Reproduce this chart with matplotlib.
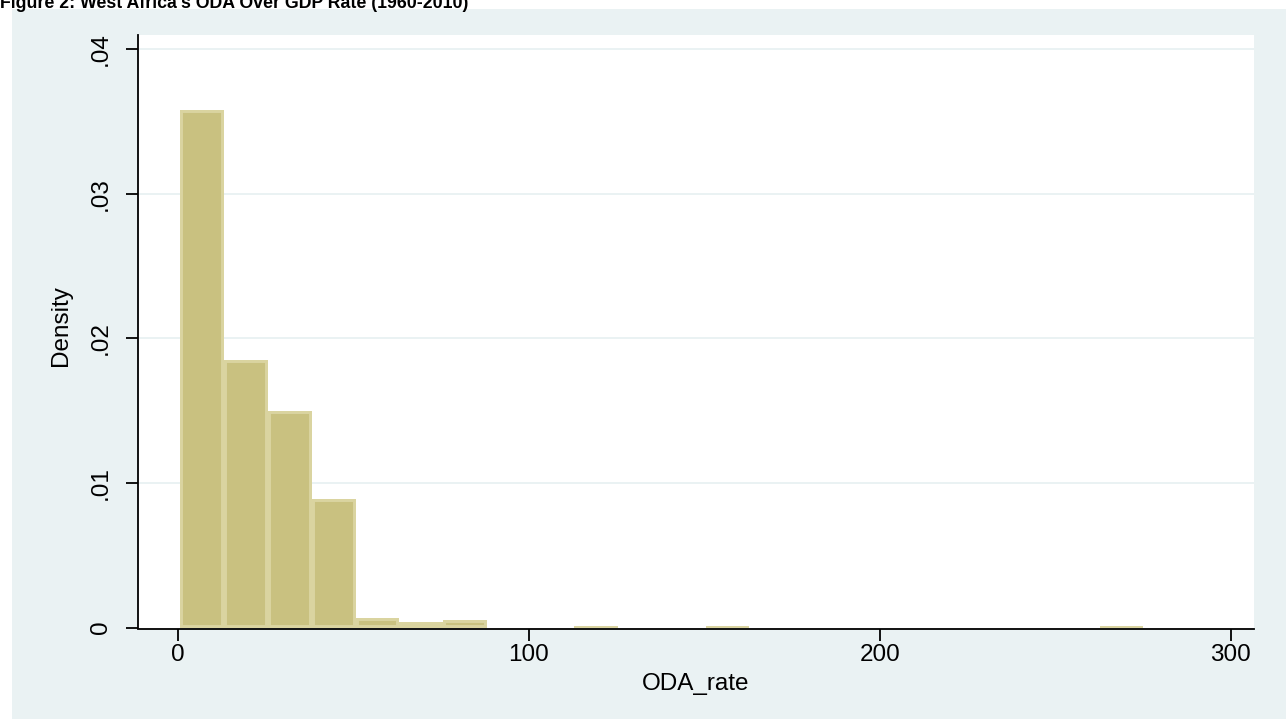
import matplotlib
matplotlib.use('Agg')
import matplotlib.pyplot as plt
from matplotlib.patches import Rectangle

plt.rcParams['font.family'] = ['Liberation Sans', 'DejaVu Sans']

# ── histogram of ODA_rate (density scale, equal-width bins) ──
BIN_START = 0.77
BIN_WIDTH = 12.47
DENSITY = [0.0358, 0.0185, 0.0150, 0.0089, 0.00066, 0.00038, 0.00052,
           0.0, 0.0, 0.00013, 0.0, 0.0, 0.00013, 0.0, 0.0, 0.0,
           0.0, 0.0, 0.0, 0.0, 0.0, 0.00013]

X_TICKS = [0, 100, 200, 300]
Y_TICKS = [0, 0.01, 0.02, 0.03, 0.04]
Y_TICK_LABELS = ['0', '.01', '.02', '.03', '.04']

TITLE = "Figure 2: West Africa's ODA Over GDP Rate (1960-2010)"

BG      = '#EAF2F3'
FILL    = '#C9C180'
OUTLINE = '#DAD4A0'

W, H = 1286, 719
fig = plt.figure(figsize=(W / 100, H / 100), dpi=100, facecolor='white')

# graph region background (behind the plot region)
fig.patches.append(Rectangle((12 / W, 0), 1 - 12 / W, 1 - 9 / H,
                             transform=fig.transFigure, facecolor=BG,
                             edgecolor='none', zorder=-5))

ax = fig.add_axes([137.7 / W, (H - 627.5) / H,
                   (1254 - 137.7) / W, (627.5 - 35) / H])
ax.set_zorder(1)
ax.set_facecolor('white')

lefts = [BIN_START + i * BIN_WIDTH for i in range(len(DENSITY))]
bars = ax.bar(lefts, DENSITY, width=BIN_WIDTH, align='edge',
              color=FILL, edgecolor=OUTLINE, linewidth=4.3, zorder=2)
for b in bars:
    b.set_clip_path(b)   # keep the outline inside each bar

ax.set_xlim(-11.4, 306.6)
ax.set_ylim(0, 0.04100)

ax.set_yticks(Y_TICKS)
ax.set_yticklabels(Y_TICK_LABELS, rotation=90, va='center')
ax.set_xticks(X_TICKS)

for y in Y_TICKS[1:]:
    ax.axhline(y, color=BG, lw=1.4, zorder=1)

for side in ['top', 'right']:
    ax.spines[side].set_visible(False)
for side in ['left', 'bottom']:
    ax.spines[side].set_linewidth(1.3)
    ax.spines[side].set_zorder(3)
# axis line sits just under the bars, as in Stata
ax.spines['bottom'].set_position(('outward', 1.2))

ax.tick_params(axis='both', direction='out', length=8.4, width=1.3,
               labelsize=17.5, colors='black')
ax.tick_params(axis='x', pad=2)
ax.tick_params(axis='y', pad=10)

ax.set_xlabel('ODA_rate', fontsize=17.5, va='top')
ax.xaxis.set_label_coords(0.5, -0.0767)
ax.set_ylabel('Density', fontsize=17.5)
ax.yaxis.set_label_coords(-0.059, 0.51)

fig.text(0, 1 - 8 / H, TITLE, fontsize=12.8, fontweight='bold',
         ha='left', va='baseline')

fig.savefig('out.png', dpi=100, facecolor='white')
